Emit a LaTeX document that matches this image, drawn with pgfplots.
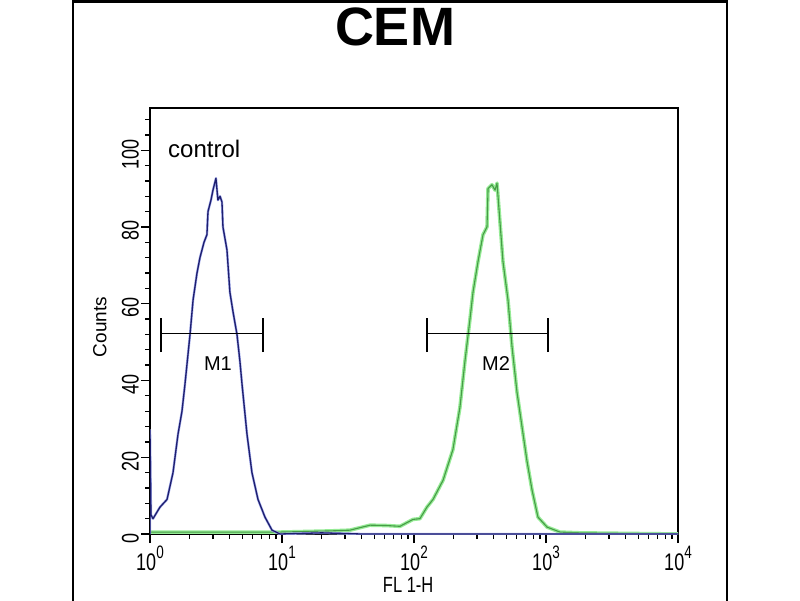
\documentclass[border=0pt]{standalone}
\usepackage{pgfplots}
\pgfplotsset{compat=1.18}
\usepackage{fontspec}
\setmainfont{Liberation Sans}
\newfontfamily\narrowfont[FakeStretch=0.75]{Liberation Sans}
\definecolor{navy}{RGB}{30,30,110}
\definecolor{navyglow}{RGB}{160,170,235}
\definecolor{glow}{RGB}{150,235,150}
\definecolor{gcore}{RGB}{70,155,70}
\newcommand{\dec}[1]{10\raisebox{0.5em}{\fontsize{18}{18}\selectfont #1}}
\begin{document}
\begin{tikzpicture}[x=1pt,y=1pt]
\useasboundingbox (0,0) rectangle (800,600);
\fill[white] (0,0) rectangle (800,600);
\draw[line width=2.5pt] (73,-10) -- (73,598.5) -- (727,598.5) -- (727,-10);
\begin{axis}[
  at={(150pt,66pt)}, anchor=south west,
  scale only axis, width=528pt, height=426pt,
  xmode=log, xmin=1, xmax=10000, ymin=0, ymax=111,
  axis line style={line width=1.8pt},
  tick align=outside, xtick pos=bottom, ytick pos=left,
  major tick length=9pt, minor tick length=5pt,
  every tick/.style={line width=1.3pt, black},
  xtick={1,10,100,1000,10000},
  xticklabels={\dec{0},\dec{1},\dec{2},\dec{3},\dec{4}},
  minor xtick={2,3,4,5,6,7,8,9,20,30,40,50,60,70,80,90,200,300,400,500,600,700,800,900,2000,3000,4000,5000,6000,7000,8000,9000},
  ytick={0,20,40,60,80,100},
  yticklabels={0,20,40,60,80,100},
  minor ytick={4,8,12,16,24,28,32,36,44,48,52,56,64,68,72,76,84,88,92,96,104,108},
  yticklabel style={rotate=90, anchor=south, inner sep=2pt, xshift=-4pt},
  xticklabel style={anchor=north, inner sep=0.5pt, yshift=-2pt},
  ticklabel style={font=\narrowfont\fontsize{24}{26}\selectfont},
  title={CEM},
  title style={at={(rel axis cs:0.464,1.176)}, anchor=center, font=\fontsize{54}{60}\selectfont\bfseries},
  xlabel={FL 1-H},
  xlabel style={at={(rel axis cs:0.489,-0.119)}, anchor=center, inner sep=0pt, font=\narrowfont\fontsize{22}{24}\selectfont},
  ylabel={Counts},
  ylabel style={at={(rel axis cs:-0.095,0.486)}, anchor=center, rotate=0, font=\fontsize{19}{21}\selectfont},
  clip=true,
]
% green histogram (sample)
\addplot[glow, line width=3.6pt, line join=round] coordinates {
(1,0.5) (9.66,0.5) (23.1,0.8) (32.7,1) (46.5,2.3) (62.4,2.2) (78.3,2) (98.2,3.8)
(110.9,4) (125.3,7) (139.3,9) (166,14) (197.2,22) (222.8,33) (243.2,45) (265.5,56)
(279.9,63) (305.5,71) (333.4,78) (357.3,80) (363.9,90) (389.9,91) (411.1,89.6)
(425.6,91.4) (448.7,81) (472.1,71) (515.2,61) (552.1,49) (602.6,37) (657.7,28)
(717.8,19) (783.4,11.5) (869,4.4) (1018.6,1.8) (1276.4,0.5) (1811.3,0.3) (10000,0)
};
\addplot[gcore, line width=1.1pt, line join=round] coordinates {
(1,0.5) (9.66,0.5) (23.1,0.8) (32.7,1) (46.5,2.3) (62.4,2.2) (78.3,2) (98.2,3.8)
(110.9,4) (125.3,7) (139.3,9) (166,14) (197.2,22) (222.8,33) (243.2,45) (265.5,56)
(279.9,63) (305.5,71) (333.4,78) (357.3,80) (363.9,90) (389.9,91) (411.1,89.6)
(425.6,91.4) (448.7,81) (472.1,71) (515.2,61) (552.1,49) (602.6,37) (657.7,28)
(717.8,19) (783.4,11.5) (869,4.4) (1018.6,1.8) (1276.4,0.5) (1811.3,0.3) (10000,0)
};
% blue histogram (control)
\addplot[navyglow, line width=2.4pt, line join=round] coordinates {
(1,0) (1,27) (1.017,5) (1.054,4) (1.19,7) (1.346,9) (1.494,16) (1.63,26) (1.747,32)
(1.84,39) (2.01,52) (2.12,61) (2.27,68) (2.39,72) (2.565,76) (2.70,78) (2.75,84)
(2.897,87) (3.0,89.6) (3.16,92.7) (3.27,87) (3.39,88) (3.51,86.5) (3.57,80) (3.83,74)
(4.03,63) (4.25,58) (4.56,52) (4.80,45) (4.98,39) (5.43,26) (5.92,16) (6.58,9)
(7.43,4.4) (8.40,1) (9.66,0) (20,0.3) (40,0) (10000,0)
};
\addplot[navy, line width=1.3pt, line join=round] coordinates {
(1,0) (1,27) (1.017,5) (1.054,4) (1.19,7) (1.346,9) (1.494,16) (1.63,26) (1.747,32)
(1.84,39) (2.01,52) (2.12,61) (2.27,68) (2.39,72) (2.565,76) (2.70,78) (2.75,84)
(2.897,87) (3.0,89.6) (3.16,92.7) (3.27,87) (3.39,88) (3.51,86.5) (3.57,80) (3.83,74)
(4.03,63) (4.25,58) (4.56,52) (4.80,45) (4.98,39) (5.43,26) (5.92,16) (6.58,9)
(7.43,4.4) (8.40,1) (9.66,0) (20,0.3) (40,0) (10000,0)
};
% gates
\addplot[black, line width=1.5pt] coordinates {(1.21,52.3) (7.18,52.3)};
\addplot[black, line width=1.5pt] coordinates {(1.21,47.4) (1.21,56.3)};
\addplot[black, line width=1.5pt] coordinates {(7.18,47.4) (7.18,56.3)};
\addplot[black, line width=1.5pt] coordinates {(125,52.3) (1035,52.3)};
\addplot[black, line width=1.5pt] coordinates {(125,47.4) (125,56.3)};
\addplot[black, line width=1.5pt] coordinates {(1035,47.4) (1035,56.3)};
\node[font=\fontsize{20}{22}\selectfont] at (axis cs:3.27,44.5) {M1};
\node[font=\fontsize{20}{22}\selectfont] at (axis cs:418,44.5) {M2};
\node[anchor=base west, inner sep=0pt, font=\fontsize{24}{26}\selectfont] at (axis cs:1.37,98) {control};
\end{axis}
\end{tikzpicture}
\end{document}
